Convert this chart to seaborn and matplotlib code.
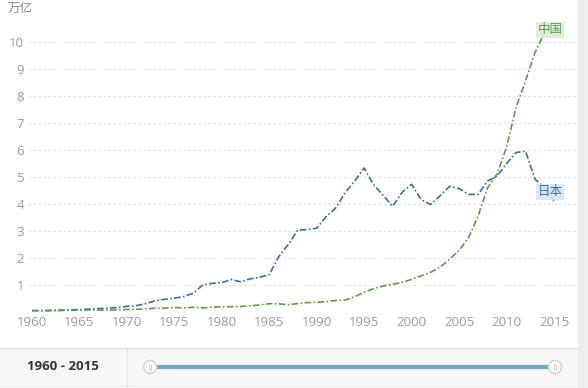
import matplotlib
matplotlib.use("Agg")
import matplotlib.pyplot as plt
import seaborn as sns
import pandas as pd
from matplotlib.patches import Rectangle, Circle

years = list(range(1960, 2016))
japan = [0.044, 0.054, 0.061, 0.070, 0.082, 0.091, 0.106, 0.124, 0.146, 0.169,
         0.209, 0.236, 0.312, 0.420, 0.471, 0.511, 0.574, 0.698, 1.002, 1.062,
         1.087, 1.202, 1.117, 1.229, 1.289, 1.385, 2.052, 2.500, 3.035, 3.054,
         3.104, 3.537, 3.853, 4.415, 4.850, 5.334, 4.706, 4.324, 3.915, 4.433,
         4.731, 4.160, 3.981, 4.303, 4.656, 4.572, 4.357, 4.356, 4.849, 5.035,
         5.495, 5.906, 5.954, 4.920, 4.602, 4.123]
china_years = list(range(1960, 2015))
china = [0.060, 0.050, 0.047, 0.051, 0.060, 0.070, 0.077, 0.073, 0.071, 0.080,
         0.093, 0.100, 0.114, 0.139, 0.144, 0.163, 0.154, 0.175, 0.150, 0.178,
         0.191, 0.196, 0.205, 0.230, 0.260, 0.309, 0.301, 0.273, 0.312, 0.348,
         0.361, 0.383, 0.427, 0.445, 0.564, 0.735, 0.864, 0.962, 1.029, 1.094,
         1.211, 1.339, 1.471, 1.660, 1.955, 2.286, 2.752, 3.552, 4.598, 5.110,
         6.101, 7.573, 8.561, 9.607, 10.35]
series_names = ["日本", "中国"]
y_ticks = list(range(1, 11))
x_ticks = list(range(1960, 2016, 5))
unit_label = "万亿"
range_label = "1960 - 2015"

df = pd.concat([
    pd.DataFrame({"year": years, "value": japan, "country": series_names[0]}),
    pd.DataFrame({"year": china_years, "value": china, "country": series_names[1]}),
])

sns.set_theme(style="white")
plt.rcParams['font.family'] = ['Open Sans', 'Noto Sans CJK SC', 'DejaVu Sans']

W, H = 588, 388
fig = plt.figure(figsize=(W / 100, H / 100), dpi=100)

# background / decoration axes in pixel coords
bg = fig.add_axes([0, 0, 1, 1])
bg.set_xlim(0, W)
bg.set_ylim(H, 0)
bg.axis("off")
bg.add_patch(Rectangle((0, 348), 578, 38, facecolor="#f7f7f7", edgecolor="none"))
bg.plot([0, 578], [348, 348], color="#e4e4e4", lw=1)
bg.plot([0, 578], [386, 386], color="#ececec", lw=1)
bg.plot([127, 127], [348, 386], color="#e4e4e4", lw=1)
bg.add_patch(Rectangle((578, 0), 10, H, facecolor="#eeeeef", edgecolor="none"))
bg.text(63, 366, range_label, ha="center", va="center", fontsize=9.5,
        fontweight="bold", color="#333333", family=['Open Sans', 'DejaVu Sans'])
bg.plot([150, 555], [367, 367], color="#72a7c4", lw=3, solid_capstyle="butt")
for cx in (150, 555):
    bg.add_patch(Circle((cx, 367), 6.5, facecolor="white", edgecolor="#d5d5d5", lw=1.2, zorder=3))
    bg.plot([cx - 1.2, cx - 1.2], [364, 370], color="#cfcfcf", lw=0.8, zorder=4)
    bg.plot([cx + 1.2, cx + 1.2], [364, 370], color="#cfcfcf", lw=0.8, zorder=4)
bg.text(8, 8, unit_label, ha="left", va="center", fontsize=9, color="#888888",
        family=['Noto Sans CJK SC', 'DejaVu Sans'])

# main chart axes
left_px, right_px, top_px, bottom_px = 28, 576, 5, 312
ax = fig.add_axes([left_px / W, 1 - bottom_px / H, (right_px - left_px) / W, (bottom_px - top_px) / H])
ax.patch.set_alpha(0)
px_per_year = (554 - 32) / 55.0
x0 = 1960 - (32 - left_px) / px_per_year
x1 = 2015 + (right_px - 554) / px_per_year
ax.set_xlim(x0, x1)
px_per_unit = 27.0
ax.set_ylim(0, (bottom_px - top_px) / px_per_unit)

palette = {series_names[0]: "#3d6f9c", series_names[1]: "#5e9c4c"}
sns.lineplot(data=df, x="year", y="value", hue="country", palette=palette, ax=ax,
             legend=False, lw=1.2, linestyle=(0, (4, 1.4, 1, 1.4)))

for s in ax.spines.values():
    s.set_visible(False)
ax.set_yticks(y_ticks)
ax.set_xticks(x_ticks)
ax.set_yticklabels([str(v) for v in y_ticks])
ax.set_xticklabels([str(v) for v in x_ticks])
ax.tick_params(axis="both", length=0, labelsize=9.5, labelcolor="#9a9a9a")
ax.tick_params(axis="y", pad=3)
ax.tick_params(axis="x", pad=3)
ax.grid(axis="y", color="#e2e2e2", lw=0.9, linestyle=(0, (2, 2)))
ax.grid(axis="x", visible=False)
ax.set_xlabel("")
ax.set_ylabel("")

# end labels
ax.text(2014.6, china[-1] + 0.1, series_names[1], ha="center", va="center", fontsize=9,
        color="#5e9c4c", family=['Noto Sans CJK SC', 'DejaVu Sans'], zorder=5,
        bbox=dict(boxstyle="square,pad=0.12", facecolor="#dcebd6", edgecolor="none", alpha=0.9))
ax.text(2014.6, japan[-2] - 0.15, series_names[0], ha="center", va="center", fontsize=9,
        color="#3d6f9c", family=['Noto Sans CJK SC', 'DejaVu Sans'], zorder=5,
        bbox=dict(boxstyle="square,pad=0.12", facecolor="#d6e6f2", edgecolor="none", alpha=0.9))

fig.savefig("out.png", dpi=100)
